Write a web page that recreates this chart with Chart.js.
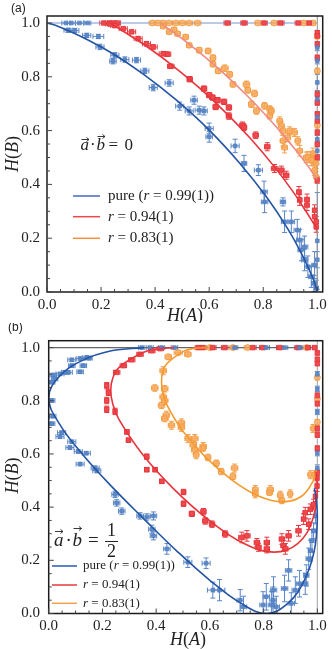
<!DOCTYPE html>
<html><head><meta charset="utf-8">
<script src="https://cdn.jsdelivr.net/npm/chart.js@4/dist/chart.umd.min.js"></script>
<style>
html,body{margin:0;padding:0;background:#fff;}
#wrap{position:relative;width:332px;height:649px;overflow:hidden;}
canvas{display:block;}
</style></head><body>
<div id="wrap">
<canvas id="ca" width="332" height="323"></canvas>
<canvas id="cb" width="332" height="326"></canvas>
</div>
<script>
// ---------- tick labels ----------
const TICK_VALUES = [0, 0.2, 0.4, 0.6, 0.8, 1.0];
const TICK_LABELS = ['0.0', '0.2', '0.4', '0.6', '0.8', '1.0'];
const MINOR_TICKS = [0, 0.05, 0.1, 0.15, 0.2, 0.25, 0.3, 0.35, 0.4, 0.45, 0.5, 0.55, 0.6, 0.65, 0.7, 0.75, 0.8, 0.85, 0.9, 0.95, 1.0];
const LEGEND_PARTS = [
  [['pure (', 0], ['r', 1], [' = 0.99(1))', 0]],
  [['r', 1], [' = 0.94(1)', 0]],
  [['r', 1], [' = 0.83(1)', 0]]
];

// ---------- panel (a): a.b = 0 ; points [H(A), H(B), errA, errB] ----------
const A_BLUE_PTS = [
  [0.07,1,0.015,0],[0.09,1,0.015,0],[0.12,1,0.015,0],[0.15,1,0.012,0],
  [0.078,0.973,0.015,0.008],[0.103,0.972,0.015,0.008],[0.147,0.954,0.015,0.008],[0.19,0.95,0.02,0.008],
  [0.196,0.911,0.015,0.01],[0.251,0.88,0.015,0.01],[0.244,0.858,0.012,0.01],[0.288,0.864,0.015,0.01],
  [0.331,0.862,0.015,0.01],[0.362,0.822,0.015,0.01],[0.393,0.76,0.015,0.012],[0.452,0.777,0.015,0.012],
  [0.491,0.691,0.015,0.015],[0.526,0.673,0.015,0.015],[0.544,0.713,0.012,0.015],[0.563,0.676,0.015,0.015],
  [0.581,0.673,0.012,0.015],[0.6,0.608,0.015,0.02],[0.6,0.577,0.012,0.02],[0.696,0.543,0.015,0.025],
  [0.729,0.478,0.01,0.03],[0.782,0.453,0.015,0.02],[0.803,0.372,0.012,0.04],[0.805,0.335,0.012,0.04],
  [0.873,0.335,0.01,0.015],[0.879,0.261,0.012,0.04],[0.904,0.261,0.012,0.04],[0.926,0.23,0.012,0.04],
  [0.935,0.193,0.012,0.04],[0.941,0.156,0.012,0.04],[0.953,0.168,0.012,0.04],[0.953,0.119,0.012,0.04],
  [0.965,0.094,0.012,0.04],[0.978,0.057,0.01,0.04],[0.99,0.1,0.01,0.05],[0.988,0.032,0.01,0.03],
  [0.996,0.014,0.008,0.03],
  [1.0,0.909,0,0.012],[1.0,0.86,0,0.012],[1.0,0.779,0,0.03],[1.0,0.717,0,0.015],[1.0,0.65,0,0.015],
  [1.0,0.568,0,0.015],[1.0,0.525,0,0.015],[1.0,0.19,0,0.18],[1.0,0.12,0,0.03]
];
const A_RED_PTS = [
  [0.21,1,0.015,0],[0.23,1,0.015,0],[0.245,1,0.012,0],[0.26,1,0.012,0],[0.667,1,0.012,0],[0.729,1,0.012,0],
  [0.803,1,0.012,0],[0.865,1,0.012,0],[0.93,1,0.012,0],[0.97,1,0.01,0],
  [0.233,0.996,0.015,0.006],[0.251,0.99,0.015,0.006],[0.282,0.979,0.015,0.006],[0.313,0.967,0.015,0.006],
  [0.337,0.942,0.015,0.008],[0.368,0.923,0.015,0.008],[0.393,0.911,0.015,0.008],[0.43,0.886,0.015,0.008],
  [0.446,0.884,0.012,0.008],[0.458,0.839,0.012,0.008],[0.528,0.791,0.01,0.01],[0.581,0.756,0.01,0.01],
  [0.6,0.732,0.01,0.01],[0.612,0.723,0.01,0.01],[0.631,0.713,0.01,0.01],[0.655,0.707,0.01,0.01],
  [0.624,0.688,0.01,0.01],[0.673,0.686,0.01,0.01],[0.673,0.654,0.01,0.012],[0.723,0.62,0.01,0.012],
  [0.729,0.612,0.01,0.012],[0.772,0.583,0.01,0.012],[0.815,0.54,0.01,0.015],[0.842,0.459,0.012,0.015],
  [0.867,0.453,0.01,0.015],[0.885,0.434,0.01,0.015],[0.932,0.372,0.008,0.02],[0.935,0.342,0.008,0.02],
  [0.962,0.344,0.008,0.02],[0.962,0.323,0.008,0.02],[0.99,0.304,0.006,0.02],[0.99,0.28,0.006,0.02],
  [0.996,0.261,0.005,0.02],[0.996,0.242,0.005,0.02],
  [1,0.964,0,0.008],[1,0.952,0,0.008],[1,0.921,0,0.01],[1,0.871,0,0.01],[1,0.735,0,0.01],[1,0.704,0,0.01],
  [1,0.661,0,0.01],[1,0.636,0,0.01],[1,0.593,0,0.01],[1,0.55,0,0.01],[1,0.5,0,0.01],[1,0.416,0,0.012]
];
const A_ORANGE_PTS = [
  [0.39,1,0.012,0],[0.41,1,0.012,0],[0.43,1,0.01,0],[0.452,1,0.012,0],[0.477,1,0.012,0],[0.501,1,0.012,0],
  [0.526,1,0.012,0],[0.557,1,0.012,0],[0.78,1,0.01,0],[0.84,1,0.01,0],[0.95,1,0.01,0],[0.985,1,0.008,0],
  [0.43,0.988,0.01,0.006],[0.452,0.967,0.01,0.008],[0.47,0.975,0.01,0.008],[0.483,0.96,0.01,0.008],
  [0.513,0.948,0.01,0.008],[0.526,0.917,0.01,0.008],[0.563,0.899,0.01,0.01],[0.596,0.896,0.01,0.01],
  [0.614,0.871,0.01,0.01],[0.614,0.847,0.01,0.01],[0.633,0.822,0.01,0.01],[0.658,0.832,0.012,0.012],
  [0.676,0.809,0.01,0.01],[0.688,0.772,0.01,0.01],[0.738,0.772,0.012,0.012],[0.743,0.75,0.01,0.01],
  [0.768,0.738,0.01,0.012],[0.756,0.698,0.01,0.012],[0.775,0.673,0.01,0.012],[0.805,0.692,0.01,0.012],
  [0.824,0.68,0.01,0.012],[0.83,0.673,0.01,0.012],[0.824,0.655,0.01,0.012],[0.861,0.636,0.01,0.015],
  [0.867,0.618,0.01,0.015],[0.873,0.599,0.01,0.015],[0.898,0.599,0.01,0.015],[0.916,0.593,0.01,0.015],
  [0.873,0.562,0.01,0.02],[0.891,0.574,0.01,0.015],[0.928,0.562,0.01,0.015],[0.879,0.537,0.01,0.02],
  [0.935,0.525,0.01,0.02],[0.959,0.5,0.01,0.02],[0.978,0.5,0.01,0.02],[0.984,0.488,0.01,0.02],
  [0.965,0.502,0.008,0.02],[0.984,0.515,0.008,0.02],[0.996,0.478,0.005,0.02],[0.99,0.453,0.006,0.02],
  [0.996,0.428,0.005,0.02],[0.978,0.49,0.008,0.02],
  [1,0.822,0,0.01],[1,0.62,0,0.01],[1,0.95,0,0.008]
];
const A_BLUE_CURVE = [[0,1],[0.04,0.988],[0.124,0.951],[0.233,0.892],[0.355,0.811],[0.479,0.713],[0.601,0.601],
  [0.713,0.479],[0.811,0.355],[0.892,0.233],[0.951,0.124],[0.988,0.04],[1,0]];
const A_RED_CURVE = [[0.233,1.0],[0.249,0.99],[0.30,0.958],[0.376,0.908],[0.467,0.84],[0.566,0.757],[0.664,0.664],
  [0.757,0.566],[0.84,0.467],[0.908,0.376],[0.958,0.30],[0.99,0.249],[1.0,0.233]];
const A_ORANGE_CURVE = [[0.42,1.0],[0.432,0.99],[0.466,0.967],[0.52,0.926],[0.586,0.872],[0.66,0.807],[0.735,0.735],
  [0.807,0.66],[0.872,0.586],[0.926,0.52],[0.967,0.466],[0.99,0.432],[1.0,0.42]];

// ---------- panel (b): a.b = 1/2 ----------
const B_BLUE_PTS = [
  [0.086,0.954,0.015,0.006],[0.117,0.959,0.015,0.006],[0.142,0.963,0.015,0.006],[0.129,0.932,0.012,0.006],
  [0.086,0.932,0.012,0.006],[0.117,0.909,0.012,0.006],[0.073,0.907,0.015,0.006],[0.042,0.901,0.015,0.006],
  [0.017,0.897,0.012,0.006],[0.011,0.87,0.012,0.006],[0.011,0.801,0.012,0.006],[0.015,0.742,0.012,0.006],
  [0.011,0.714,0.012,0.006],[0.048,0.68,0.015,0.006],[0.042,0.665,0.015,0.006],[0.086,0.646,0.015,0.006],
  [0.079,0.624,0.015,0.006],[0.11,0.609,0.015,0.006],[0.14,0.603,0.015,0.006],[0.117,0.562,0.015,0.006],
  [0.173,0.547,0.015,0.008],[0.179,0.537,0.015,0.008],[0.022,0.882,0.012,0.006],[0.06,0.907,0.012,0.006],
  [0.15,0.96,0.012,0.006],
  [0.247,0.448,0.012,0.012],[0.253,0.416,0.012,0.012],[0.272,0.385,0.012,0.012],[0.34,0.367,0.012,0.012],
  [0.365,0.363,0.012,0.012],[0.39,0.367,0.012,0.015],[0.384,0.317,0.012,0.015],[0.39,0.292,0.012,0.015],
  [0.44,0.243,0.012,0.02],[0.518,0.193,0.015,0.02],[0.586,0.189,0.015,0.02],[0.611,0.088,0.02,0.03],
  [0.636,0.088,0.02,0.04],[0.713,0.05,0.012,0.04],[0.725,0.025,0.012,0.04],[0.798,0.032,0.012,0.05],
  [0.81,0.063,0.012,0.05],[0.829,0.032,0.012,0.05],[0.835,0.05,0.012,0.05],[0.847,0.025,0.012,0.04],
  [0.837,0.088,0.012,0.05],[0.878,0.094,0.012,0.05],[0.893,0.162,0.012,0.04],[0.903,0.038,0.012,0.04],
  [0.918,0.088,0.012,0.05],[0.934,0.112,0.012,0.05],[0.955,0.112,0.01,0.04],[0.959,0.143,0.01,0.04],
  [0.968,0.206,0.01,0.04],[0.974,0.236,0.008,0.04],[0.98,0.274,0.008,0.04],[0.986,0.311,0.006,0.03],
  [0.993,0.367,0.005,0.03],
  [0.346,1,0.012,0],[0.377,1,0.012,0],[0.42,1,0.012,0],[0.468,1,0.012,0],[0.692,1,0.012,0],[0.81,1,0.012,0],
  [0.878,1,0.012,0],[0.934,1,0.012,0],
  [1,0.845,0,0.01],[1,0.758,0,0.01],[1,0.603,0,0.01],[1,0.547,0,0.012],[1,0.9,0,0.01]
];
const B_RED_PTS = [
  [0.34,0.975,0.012,0.006],[0.384,0.988,0.012,0.006],[0.415,0.996,0.012,0.006],[0.309,0.954,0.012,0.006],
  [0.278,0.932,0.012,0.006],[0.253,0.907,0.012,0.006],[0.216,0.857,0.006,0.012],[0.222,0.832,0.006,0.012],
  [0.216,0.801,0.006,0.012],[0.216,0.768,0.006,0.012],[0.247,0.76,0.006,0.012],[0.291,0.683,0.008,0.008],
  [0.297,0.652,0.008,0.008],[0.365,0.59,0.008,0.01],[0.365,0.541,0.008,0.008],[0.396,0.541,0.008,0.008],
  [0.421,0.497,0.008,0.008],[0.502,0.457,0.008,0.01],[0.502,0.413,0.008,0.01],[0.533,0.375,0.01,0.01],
  [0.576,0.383,0.01,0.012],[0.583,0.348,0.01,0.012],[0.608,0.336,0.01,0.012],[0.657,0.299,0.01,0.012],
  [0.719,0.286,0.012,0.02],[0.738,0.292,0.012,0.02],[0.775,0.267,0.01,0.015],[0.812,0.267,0.01,0.02],
  [0.781,0.249,0.01,0.015],[0.812,0.243,0.01,0.015],[0.868,0.28,0.01,0.02],[0.874,0.255,0.01,0.02],
  [0.893,0.292,0.01,0.02],[0.881,0.243,0.01,0.02],[0.93,0.311,0.01,0.02],[0.949,0.355,0.008,0.02],
  [0.955,0.379,0.008,0.02],[0.974,0.392,0.008,0.02],[0.968,0.336,0.008,0.02],[0.986,0.41,0.006,0.02],
  [0.993,0.441,0.005,0.02],[0.999,0.479,0.004,0.02],[0.999,0.51,0.004,0.02],
  [0.557,1,0.012,0],[0.574,1,0.012,0],[0.611,1,0.012,0],[0.655,1,0.012,0],[0.76,1,0.012,0],[0.797,1,0.012,0],
  [0.86,1,0.012,0],[0.928,1,0.012,0],[0.965,1,0.01,0],[0.99,1,0.008,0],
  [1,0.98,0,0.008],[1,0.956,0,0.008],[1,0.94,0,0.008],[1,0.82,0,0.01],[1,0.79,0,0.01],[1,0.696,0,0.01],
  [1,0.672,0,0.01],[1,0.621,0,0.01],[1,0.53,0,0.01]
];
const B_ORANGE_PTS = [
  [0.482,0.981,0.015,0.008],[0.445,0.965,0.012,0.01],[0.518,0.975,0.012,0.008],[0.426,0.913,0.012,0.015],
  [0.395,0.848,0.012,0.012],[0.432,0.845,0.012,0.012],[0.426,0.814,0.012,0.012],[0.432,0.801,0.012,0.015],
  [0.42,0.783,0.012,0.012],[0.438,0.746,0.012,0.015],[0.432,0.733,0.012,0.012],[0.457,0.708,0.012,0.015],
  [0.494,0.717,0.012,0.015],[0.494,0.7,0.012,0.015],[0.519,0.658,0.012,0.015],[0.544,0.658,0.012,0.015],
  [0.538,0.634,0.012,0.015],[0.544,0.615,0.012,0.015],[0.575,0.628,0.012,0.015],[0.574,0.621,0.01,0.01],
  [0.549,0.597,0.01,0.015],[0.593,0.587,0.01,0.012],[0.624,0.565,0.01,0.012],[0.642,0.534,0.01,0.012],
  [0.692,0.547,0.012,0.015],[0.686,0.516,0.01,0.012],[0.769,0.466,0.01,0.015],[0.769,0.45,0.01,0.015],
  [0.825,0.466,0.012,0.015],[0.822,0.455,0.01,0.01],[0.862,0.445,0.01,0.015],[0.868,0.425,0.01,0.012],
  [0.899,0.45,0.008,0.015],[0.974,0.522,0.008,0.015],[0.984,0.696,0.006,0.015],[0.99,0.522,0.005,0.015],
  [0.6,1,0.012,0],[0.686,1,0.012,0],[0.74,1,0.012,0],[0.96,1,0.01,0],
  [1,0.888,0,0.01],[1,0.807,0,0.01],[1,0.72,0,0.01]
];
const B_BLUE_CURVE = [[0.355,1.0],[0.233,0.988],[0.124,0.951],[0.04,0.892],[0,0.811],[0.04,0.713],[0.124,0.601],
  [0.233,0.479],[0.355,0.355],[0.479,0.233],[0.601,0.124],[0.713,0.04],[0.811,0],[0.892,0.04],[0.951,0.124],
  [0.988,0.233],[1,0.355],[0.995,0.438],[0.989,0.471]];
const B_RED_CURVE = [[0.467,1.0],[0.405,0.995],[0.349,0.981],[0.263,0.927],[0.239,0.887],[0.231,0.84],[0.239,0.786],
  [0.263,0.727],[0.349,0.599],[0.467,0.467],[0.599,0.349],[0.727,0.263],[0.84,0.231],[0.927,0.263],
  [0.981,0.349],[1.0,0.467],[0.995,0.533]];
const B_ORANGE_CURVE = [[0.586,1.0],[0.54,0.997],[0.5,0.985],[0.441,0.941],[0.425,0.909],[0.42,0.872],[0.425,0.83],
  [0.441,0.783],[0.5,0.685],[0.586,0.586],[0.685,0.5],[0.783,0.441],[0.872,0.42],[0.941,0.441],[0.985,0.5],[0.996,0.54]];

// ---------- styles ----------
const SERIF = '"Liberation Serif", "DejaVu Serif", serif';
const PT_STYLE = {
  blue:   {style:'rect',   r:2.6, fill:'rgba(90,134,198,0.9)', stroke:'#4f7dc0', err:'#5a86c6'},
  red:    {style:'rect',   r:3.2, fill:'#ee4a4e', stroke:'#e3343a', err:'#e8383d'},
  orange: {style:'circle', r:3.0, fill:'rgba(247,170,95,0.8)', stroke:'#f29a3c', err:'#f4a04e'}
};

function ptsDS(pts, st) {
  return {type:'scatter', data: pts.map(p => ({x:p[0], y:p[1]})), errs: pts, errColor: st.err,
    pointStyle: st.style, pointRadius: st.r, pointHoverRadius: st.r, backgroundColor: st.fill,
    borderColor: st.stroke, borderWidth: 0.8, order: 2};
}
function curveDS(c, color) {
  return {type:'scatter', data: c.map(p => ({x:p[0], y:p[1]})), showLine: true, pointRadius: 0,
    pointHoverRadius: 0, borderColor: color, borderWidth: 1.6, tension: 0.4, fill: false, order: 0};
}

const errPlugin = {
  id: 'errbars',
  beforeDatasetsDraw(chart) {
    const {ctx, chartArea: a, scales: {x, y}} = chart;
    ctx.save();
    ctx.beginPath(); ctx.rect(a.left, a.top, a.right - a.left, a.bottom - a.top); ctx.clip();
    chart.data.datasets.forEach(ds => {
      if (!ds.errs) return;
      ctx.strokeStyle = ds.errColor; ctx.lineWidth = 1;
      ctx.beginPath();
      ds.errs.forEach(p => {
        const px = x.getPixelForValue(p[0]), py = y.getPixelForValue(p[1]);
        if (p[2] > 0) {
          const x1 = x.getPixelForValue(p[0] - p[2]), x2 = x.getPixelForValue(p[0] + p[2]);
          ctx.moveTo(x1, py); ctx.lineTo(x2, py);
          ctx.moveTo(x1, py - 2.5); ctx.lineTo(x1, py + 2.5);
          ctx.moveTo(x2, py - 2.5); ctx.lineTo(x2, py + 2.5);
        }
        if (p[3] > 0) {
          const y1 = y.getPixelForValue(p[1] - p[3]), y2 = y.getPixelForValue(p[1] + p[3]);
          ctx.moveTo(px, y1); ctx.lineTo(px, y2);
          ctx.moveTo(px - 2.5, y1); ctx.lineTo(px + 2.5, y1);
          ctx.moveTo(px - 2.5, y2); ctx.lineTo(px + 2.5, y2);
        }
      });
      ctx.stroke();
    });
    ctx.restore();
  }
};

function drawRefLines(chart, topColor, rightColor) {
  const {ctx, chartArea: a, scales: {x, y}} = chart;
  ctx.save(); ctx.lineWidth = 1.1;
  const x1 = x.getPixelForValue(1), y1 = y.getPixelForValue(1);
  ctx.strokeStyle = rightColor;
  ctx.beginPath(); ctx.moveTo(x1, a.top); ctx.lineTo(x1, a.bottom); ctx.stroke();
  ctx.strokeStyle = topColor;
  ctx.beginPath(); ctx.moveTo(a.left, y1); ctx.lineTo(x1, y1); ctx.stroke();
  ctx.restore();
}
function drawFrameTicks(chart) {
  const {ctx, chartArea: a, scales: {x, y}} = chart;
  ctx.save();
  ctx.strokeStyle = '#1c1c1c'; ctx.lineWidth = 1.5;
  ctx.strokeRect(a.left, a.top, a.right - a.left, a.bottom - a.top);
  ctx.lineWidth = 1; ctx.strokeStyle = '#444';
  ctx.beginPath();
  MINOR_TICKS.forEach(v => {
    const len = TICK_VALUES.includes(v) ? 5 : 3;
    const px = x.getPixelForValue(v), py = y.getPixelForValue(v);
    ctx.moveTo(px, a.bottom); ctx.lineTo(px, a.bottom - len);
    ctx.moveTo(a.left, py); ctx.lineTo(a.left + len, py);
  });
  ctx.stroke(); ctx.restore();
}
function rich(ctx, parts, x, y, size, align) {
  ctx.textBaseline = 'middle'; ctx.textAlign = 'left';
  const fonts = parts.map(p => (p[1] ? 'italic ' : '') + size + 'px ' + SERIF);
  let total = 0;
  const ws = parts.map((p, i) => { ctx.font = fonts[i]; const w = ctx.measureText(p[0]).width; total += w; return w; });
  let cx = align === 'center' ? x - total / 2 : x;
  parts.forEach((p, i) => { ctx.font = fonts[i]; ctx.fillText(p[0], cx, y); cx += ws[i]; });
}
function arrow(ctx, x1, x2, y) {
  ctx.beginPath(); ctx.moveTo(x1, y); ctx.lineTo(x2, y);
  ctx.moveTo(x2 - 2.5, y - 2); ctx.lineTo(x2, y); ctx.lineTo(x2 - 2.5, y + 2); ctx.stroke();
}
function drawLegend(ctx, rows, x1, x2, tx, size, colors) {
  ctx.save(); ctx.lineWidth = 1.5;
  rows.forEach((ry, i) => {
    ctx.strokeStyle = colors[i];
    ctx.beginPath(); ctx.moveTo(x1, ry); ctx.lineTo(x2, ry); ctx.stroke();
    ctx.fillStyle = '#222';
    rich(ctx, LEGEND_PARTS[i], tx, ry, size, 'left');
  });
  ctx.restore();
}
function drawTitles(ctx, chart, hbY, haX, haY) {
  ctx.save(); ctx.fillStyle = '#222';
  rich(ctx, [['H', 1], ['(', 0], ['A', 1], [')', 0]], haX, haY, 18, 'center');
  ctx.translate(13, hbY); ctx.rotate(-Math.PI / 2);
  rich(ctx, [['H', 1], ['(', 0], ['B', 1], [')', 0]], 0, 0, 18, 'center');
  ctx.restore();
}

const decorA = {
  id: 'decorA',
  beforeDatasetsDraw(chart) { drawRefLines(chart, '#7d95d0', '#9a9a9a'); },
  afterDraw(chart) {
    const ctx = chart.ctx;
    drawFrameTicks(chart);
    drawLegend(ctx, [196, 216.7, 238.3], 73, 100, 108, 15, ['#4567c0', '#f04848', '#f39040']);
    ctx.save(); ctx.fillStyle = '#222'; ctx.strokeStyle = '#222'; ctx.lineWidth = 0.9;
    ctx.textBaseline = 'alphabetic'; ctx.textAlign = 'left';
    ctx.font = 'italic 17px ' + SERIF; ctx.fillText('a', 80.5, 150); ctx.fillText('b', 96.5, 150);
    ctx.font = '17px ' + SERIF; ctx.fillText('·', 90, 150); ctx.fillText('=', 108.5, 150); ctx.fillText('0', 124.5, 150);
    arrow(ctx, 81.5, 89, 139.5); arrow(ctx, 97.5, 105, 136.5);
    ctx.restore();
    drawTitles(ctx, chart, 154, 185, 316);
    ctx.save(); ctx.fillStyle = '#222'; ctx.font = '12px "Liberation Sans", Arial, sans-serif';
    ctx.textBaseline = 'middle'; ctx.textAlign = 'left'; ctx.fillText('(a)', 11, 8.5); ctx.restore();
  }
};
const decorB = {
  id: 'decorB',
  beforeDatasetsDraw(chart) { drawRefLines(chart, '#666666', '#a8a8a8'); },
  afterDraw(chart) {
    const ctx = chart.ctx;
    drawFrameTicks(chart);
    drawLegend(ctx, [243, 262, 280.3], 52, 77, 83, 13, ['#2a58b0', '#e83a3a', '#f7a050']);
    ctx.save(); ctx.fillStyle = '#222'; ctx.strokeStyle = '#222'; ctx.lineWidth = 0.9;
    ctx.textBaseline = 'alphabetic'; ctx.textAlign = 'left';
    ctx.font = 'italic 19px ' + SERIF; ctx.fillText('a', 54, 223); ctx.fillText('b', 72.5, 223);
    ctx.font = '19px ' + SERIF; ctx.fillText('·', 65.5, 223); ctx.fillText('=', 88, 223);
    ctx.textAlign = 'center'; ctx.font = '18px ' + SERIF;
    ctx.fillText('1', 111.5, 213); ctx.fillText('2', 111.5, 234);
    ctx.lineWidth = 1; ctx.beginPath(); ctx.moveTo(105, 218.5); ctx.lineTo(118, 218.5); ctx.stroke();
    ctx.lineWidth = 0.9;
    arrow(ctx, 55, 63, 208.5); arrow(ctx, 73.5, 81.5, 205.5);
    ctx.restore();
    drawTitles(ctx, chart, 152.5, 188, 317);
    ctx.save(); ctx.fillStyle = '#222'; ctx.font = '12px "Liberation Sans", Arial, sans-serif';
    ctx.textBaseline = 'middle'; ctx.textAlign = 'left'; ctx.fillText('(b)', 8, 5); ctx.restore();
  }
};

function makeChart(id, cfg) {
  const tickFont = {family: SERIF, size: 15};
  return new Chart(document.getElementById(id), {
    type: 'scatter',
    data: {datasets: cfg.datasets},
    options: {
      responsive: false, animation: false, devicePixelRatio: 1, events: [],
      layout: {padding: {left: 0, right: cfg.padRight, top: cfg.padTop, bottom: 0}},
      plugins: {legend: {display: false}, tooltip: {enabled: false}},
      scales: {
        x: {type: 'linear', min: 0, max: 1.02,
          grid: {display: false, drawTicks: false}, border: {display: false},
          afterBuildTicks: s => { s.ticks = TICK_VALUES.map(v => ({value: v})); },
          afterFit: s => { s.height = cfg.xH; },
          ticks: {callback: (v, i) => TICK_LABELS[i], padding: 4, color: '#222', font: tickFont,
            maxRotation: 0, autoSkip: false}},
        y: {type: 'linear', min: 0, max: 1.026,
          grid: {display: false, drawTicks: false}, border: {display: false},
          afterBuildTicks: s => { s.ticks = TICK_VALUES.map(v => ({value: v})); },
          afterFit: s => { s.width = cfg.yW; },
          ticks: {callback: (v, i) => TICK_LABELS[i], padding: cfg.yPad, color: '#222', font: tickFont,
            autoSkip: false}}
      }
    },
    plugins: [errPlugin, cfg.decor]
  });
}

makeChart('ca', {
  padRight: 9.3, padTop: 15.7, xH: 31, yW: 47, yPad: 7, decor: decorA,
  datasets: [
    ptsDS(A_BLUE_PTS, PT_STYLE.blue), ptsDS(A_RED_PTS, PT_STYLE.red), ptsDS(A_ORANGE_PTS, PT_STYLE.orange),
    curveDS(A_BLUE_CURVE, '#2454a4'), curveDS(A_RED_CURVE, '#e8353b'), curveDS(A_ORANGE_CURVE, '#f08b86')
  ]
});
makeChart('cb', {
  padRight: 9.3, padTop: 14.7, xH: 35.5, yW: 48.7, yPad: 8.7, decor: decorB,
  datasets: [
    ptsDS(B_BLUE_PTS, PT_STYLE.blue), ptsDS(B_RED_PTS, PT_STYLE.red), ptsDS(B_ORANGE_PTS, PT_STYLE.orange),
    curveDS(B_BLUE_CURVE, '#2454a4'), curveDS(B_RED_CURVE, '#e8353b'), curveDS(B_ORANGE_CURVE, '#f39a2e')
  ]
});
</script>
</body></html>
